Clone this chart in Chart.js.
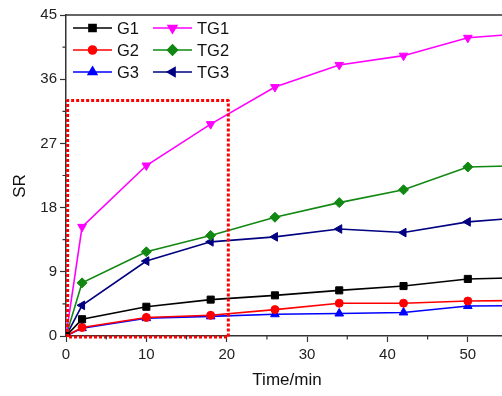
<!DOCTYPE html>
<html>
<head>
<meta charset="utf-8">
<script src="https://cdn.jsdelivr.net/npm/chart.js@4/dist/chart.umd.min.js"></script>
<style>
  html, body { margin: 0; padding: 0; background: #fff; overflow: hidden; width: 502px; height: 396px; }
  canvas { display: block; }
</style>
</head>
<body>
<canvas id="c" width="520" height="396"></canvas>
<script>
// Time / SR data
const times = [0, 2, 10, 18, 26, 34, 42, 50, 58];
const g1  = [0, 2.35, 4.1, 5.1, 5.7, 6.4, 7.0, 8.0, 8.2];
const g2  = [0, 1.2, 2.6, 2.9, 3.7, 4.6, 4.6, 4.9, 5.0];
const g3  = [0, 1.1, 2.5, 2.75, 3.05, 3.15, 3.3, 4.2, 4.25];
const tg1 = [0, 15.3, 23.9, 29.7, 34.9, 38.0, 39.3, 41.8, 42.5];
const tg2 = [0, 7.45, 11.8, 14.1, 16.65, 18.7, 20.5, 23.7, 23.9];
const tg3 = [0, 4.3, 10.5, 13.2, 13.9, 15.0, 14.5, 16.0, 16.7];

// red dotted box (data coords)
const boxX = [0.2, 0.2, 20.2, 20.2, 0.2];
const boxY = [-0.15, 33, 33, -0.15, -0.15];

const yTicks = [0, 9, 18, 27, 36, 45];
const xTicks = [0, 10, 20, 30, 40, 50];

const FONT = '"Liberation Sans", Arial, sans-serif';

function pts(xs, ys) {
    return xs.map((x, i) => ({ x: x, y: ys[i] }));
}

function serie(label, ys, color, style, radius, rotation) {
    return {
        label: label,
        data: pts(times, ys),
        borderColor: color,
        backgroundColor: color,
        borderWidth: 1.6,
        pointStyle: style,
        pointRadius: radius,
        pointRotation: rotation || 0,
        pointBorderWidth: 1,
        tension: 0,
        order: 1
    };
}

const series = [
    serie('G1', g1, '#000000', 'rect', 5),
    serie('G2', g2, '#ff0000', 'circle', 4),
    serie('G3', g3, '#0000ff', 'triangle', 5),
    serie('TG1', tg1, '#ff00ff', 'triangle', 5, 180),
    serie('TG2', tg2, '#118811', 'rectRot', 5),
    serie('TG3', tg3, '#000080', 'triangle', 5, 270)
];

const boxSet = {
    label: '',
    data: pts(boxX, boxY),
    borderColor: '#ff0000',
    borderWidth: 3,
    borderDash: [3, 2],
    borderJoinStyle: 'round',
    pointRadius: 0,
    fill: false,
    clip: 6,
    order: 0
};

// legend (2 columns inside plot), minor ticks, top frame line, y title
const extras = {
    id: 'extras',
    afterDraw(chart) {
        const ctx = chart.ctx;
        const area = chart.chartArea;
        const xs = chart.scales.x, ys = chart.scales.y;
        ctx.save();
        ctx.strokeStyle = '#333';
        ctx.lineWidth = 1.5;
        ctx.beginPath();
        ctx.moveTo(area.left, area.top);
        ctx.lineTo(area.right, area.top);
        ctx.stroke();
        ctx.lineWidth = 1.2;
        ctx.beginPath();
        for (let v = 4.5; v < 45; v += 9) {
            const p = ys.getPixelForValue(v);
            ctx.moveTo(area.left, p);
            ctx.lineTo(area.left - 3.5, p);
        }
        for (let v = 5; v < 55; v += 10) {
            const p = xs.getPixelForValue(v);
            ctx.moveTo(p, area.bottom);
            ctx.lineTo(p, area.bottom + 3.5);
        }
        ctx.stroke();

        // y axis title, sits a bit below the middle in the original
        ctx.save();
        ctx.translate(20, 186);
        ctx.rotate(-Math.PI / 2);
        ctx.font = '17px ' + FONT;
        ctx.textAlign = 'center';
        ctx.textBaseline = 'middle';
        ctx.fillStyle = '#111';
        ctx.fillText('SR', 0, 0);
        ctx.restore();

        const cols = [73, 153];
        const rows = [28, 50, 72];
        ctx.font = '16.5px ' + FONT;
        ctx.textBaseline = 'middle';
        series.forEach((s, i) => {
            const x0 = cols[Math.floor(i / 3)];
            const y0 = rows[i % 3];
            ctx.strokeStyle = s.borderColor;
            ctx.lineWidth = 1.6;
            ctx.setLineDash([]);
            ctx.beginPath();
            ctx.moveTo(x0, y0);
            ctx.lineTo(x0 + 39, y0);
            ctx.stroke();
            ctx.fillStyle = s.backgroundColor;
            Chart.helpers.drawPoint(ctx, {
                pointStyle: s.pointStyle,
                radius: s.pointRadius,
                rotation: s.pointRotation,
                borderWidth: 1
            }, x0 + 19.5, y0);
            ctx.fillStyle = '#111';
            ctx.fillText(s.label, x0 + 44, y0 + 1);
        });
        ctx.restore();
    }
};

const ctx = document.getElementById('c').getContext('2d');
new Chart(ctx, {
    type: 'line',
    data: { datasets: series.concat([boxSet]) },
    plugins: [extras],
    options: {
        responsive: false,
        animation: false,
        layout: { padding: { top: 15, right: 12, left: 0, bottom: 0 } },
        plugins: { legend: { display: false }, tooltip: { enabled: false } },
        scales: {
            x: {
                type: 'linear',
                min: 0,
                max: 55,
                afterFit(s) { s.height = 60; },
                afterBuildTicks(s) { s.ticks = xTicks.map(v => ({ value: v })); },
                border: { color: '#333', width: 1.5 },
                grid: { drawOnChartArea: false, tickLength: 6, tickColor: '#333', tickWidth: 1.2 },
                ticks: { color: '#222', padding: 4, font: { size: 15, family: FONT } },
                title: { display: true, text: 'Time/min', color: '#111', padding: { top: 0, bottom: 5 },
                         font: { size: 17, family: FONT } }
            },
            y: {
                min: 0,
                max: 45,
                afterFit(s) { s.width = 66; },
                afterBuildTicks(s) { s.ticks = yTicks.map(v => ({ value: v })); },
                border: { color: '#333', width: 1.5 },
                grid: { drawOnChartArea: false, tickLength: 6, tickColor: '#333', tickWidth: 1.2 },
                ticks: { color: '#222', padding: 3, font: { size: 15, family: FONT } }
            }
        }
    }
});
</script>
</body>
</html>
